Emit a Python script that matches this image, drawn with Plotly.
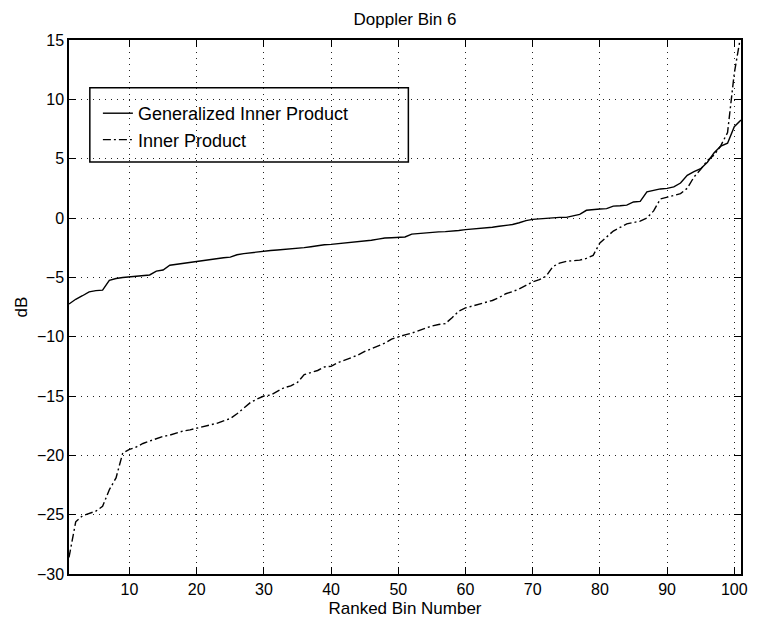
import plotly.graph_objects as go

# Ranked bin numbers
bins = list(range(1, 102))

# Generalized Inner Product (solid), dB
gip_db = [
    -7.25, -6.85, -6.55, -6.22, -6.12, -6.08, -5.25, -5.10, -5.02, -4.97,
    -4.93, -4.88, -4.80, -4.48, -4.38, -3.98, -3.90, -3.84, -3.76, -3.68,
    -3.58, -3.46, -3.40, -3.35, -3.30, -3.10, -3.00, -2.92, -2.88, -2.80,
    -2.74, -2.70, -2.66, -2.60, -2.56, -2.50, -2.42, -2.32, -2.26, -2.22,
    -2.17, -2.12, -2.06, -2.00, -1.94, -1.88, -1.78, -1.68, -1.66, -1.66,
    -1.60, -1.36, -1.30, -1.26, -1.20, -1.17, -1.15, -1.13, -1.05, -0.98,
    -0.94, -0.90, -0.85, -0.78, -0.70, -0.62, -0.55, -0.40, -0.22, -0.12,
    -0.07, -0.03, 0.02, 0.05, 0.05, 0.15, 0.30, 0.65, 0.73, 0.76,
    0.79, 1.00, 1.03, 1.08, 1.35, 1.40, 2.20, 2.35, 2.45, 2.50,
    2.62, 2.95, 3.60, 3.90, 4.15, 4.70, 5.50, 6.05, 6.30, 7.70,
    8.25,
]

# Inner Product (dash-dot), dB
ip_db = [
    -28.6, -25.6, -25.1, -24.9, -24.7, -24.3, -22.9, -21.9, -19.8, -19.5,
    -19.3, -19.0, -18.8, -18.6, -18.4, -18.3, -18.1, -17.95, -17.85, -17.72,
    -17.6, -17.45, -17.3, -17.1, -16.9, -16.5, -16.0, -15.55, -15.25, -15.0,
    -14.92, -14.6, -14.3, -14.15, -13.85, -13.2, -13.0, -12.85, -12.55, -12.5,
    -12.2, -11.98, -11.8, -11.55, -11.25, -11.0, -10.8, -10.55, -10.2, -10.0,
    -9.85, -9.7, -9.5, -9.3, -9.1, -8.98, -8.9, -8.4, -7.85, -7.58,
    -7.42, -7.25, -7.1, -6.95, -6.7, -6.38, -6.2, -5.98, -5.68, -5.38,
    -5.2, -4.9, -4.1, -3.8, -3.65, -3.6, -3.55, -3.4, -3.15, -2.1,
    -1.6, -1.1, -0.8, -0.5, -0.38, -0.27, 0.0, 0.6, 1.6, 1.75,
    1.85, 2.05, 2.5, 3.45, 4.1, 4.85, 5.3, 6.1, 7.2, 12.2,
    15.5,
]

x_ticks = [10, 20, 30, 40, 50, 60, 70, 80, 90, 100]
y_ticks = [-30, -25, -20, -15, -10, -5, 0, 5, 10, 15]

FONT = "Liberation Sans, Arial, Helvetica, sans-serif"

fig = go.Figure()
fig.add_trace(go.Scatter(
    x=bins, y=gip_db, mode="lines", name="Generalized Inner Product",
    line=dict(color="black", width=1.4),
))
fig.add_trace(go.Scatter(
    x=bins, y=ip_db, mode="lines", name="Inner Product",
    line=dict(color="black", width=1.4, dash="8px,3px,2px,3px"),
))

axis_common = dict(
    showline=True, linecolor="black", linewidth=1.5, mirror="allticks",
    ticks="inside", ticklen=7, tickwidth=1.2, tickcolor="black",
    showgrid=True, gridcolor="#222", gridwidth=1, griddash="1px,5px",
    zeroline=False, tickfont=dict(size=16, color="black", family=FONT),
)

fig.update_xaxes(
    range=[1, 101], tickvals=x_ticks,
    title=dict(text="Ranked Bin Number", font=dict(size=17, color="black", family=FONT), standoff=5),
    **axis_common,
)
fig.update_yaxes(
    range=[-30, 15], tickvals=y_ticks,
    title=dict(text="dB", font=dict(size=17, color="black", family=FONT), standoff=5),
    **axis_common,
)

# legend frame (transparent, as in the reference)
fig.add_shape(type="rect", xref="paper", yref="paper",
              x0=0.031, x1=0.505, y0=0.7714, y1=0.9108,
              line=dict(color="black", width=1.5), fillcolor="rgba(0,0,0,0)")

fig.update_layout(
    width=758, height=625,
    margin=dict(l=69, r=10, t=40, b=47),
    paper_bgcolor="white", plot_bgcolor="white",
    font=dict(family=FONT, color="black", size=16),
    title=dict(text="Doppler Bin 6", x=0.5, xref="paper", xanchor="center",
               y=1, yref="paper", yanchor="bottom", pad=dict(b=15),
               font=dict(size=17, color="black", family=FONT)),
    legend=dict(x=0.043, y=0.897, xanchor="left", yanchor="top",
                bgcolor="rgba(0,0,0,0)", borderwidth=0,
                font=dict(size=18, color="black", family=FONT)),
    showlegend=True,
)

fig.write_html("out.html")
